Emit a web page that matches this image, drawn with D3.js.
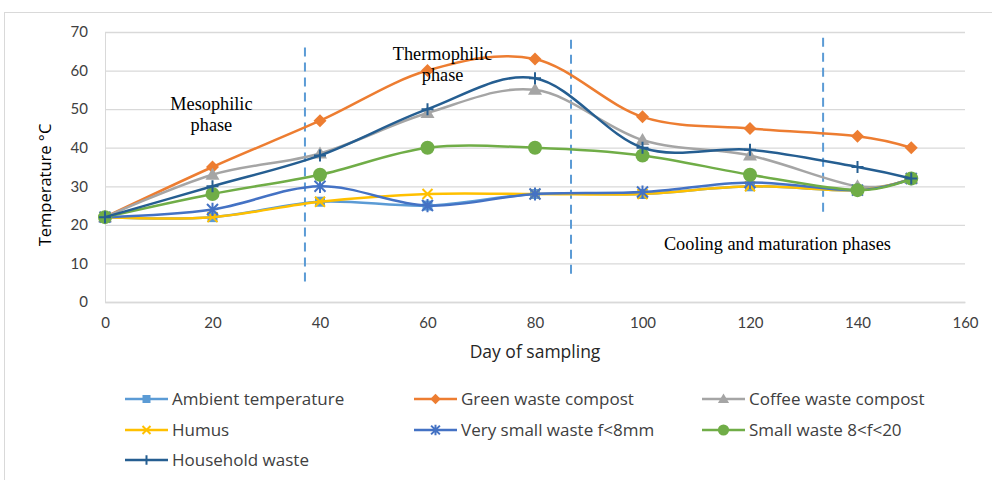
<!DOCTYPE html>
<html>
<head>
<meta charset="utf-8">
<script src="https://cdn.jsdelivr.net/npm/d3@7/dist/d3.min.js"></script>
<style>
  body { margin: 0; background: #fff; }
  svg { display: block; }
</style>
</head>
<body>
<svg id="chart" width="992" height="480"></svg>
<script>
// Sampling days and temperature readings (°C) per treatment
const days = [0, 20, 40, 60, 80, 100, 120, 140, 150];
const ambient    = [22, 22, 26, 25, 28, 28, 30, 29, 32];
const greenWaste = [22, 35, 47, 60, 63, 48, 45, 43, 40];
const coffeeWaste= [22, 33, 38.5, 49, 55, 42, 38, 30, 32];
const humus      = [22, 22, 26, 28, 28, 28, 30, 29, 32];
const verySmall  = [22, 24, 30, 25, 28, 28.5, 31, 29, 32];
const smallWaste = [22, 28, 33, 40, 40, 38, 33, 29, 32];
const household  = [22, 30, 38, 50, 58, 40, 39.5, 35, 32];

const seriesNames = ["Ambient temperature", "Green waste compost", "Coffee waste compost",
  "Humus", "Very small waste f<8mm", "Small waste 8<f<20", "Household waste"];
const seriesValues = [ambient, greenWaste, coffeeWaste, humus, verySmall, smallWaste, household];

const xTicks = [0, 20, 40, 60, 80, 100, 120, 140, 160];
const yTicks = [0, 10, 20, 30, 40, 50, 60, 70];

// Phase boundaries (day) with their vertical extent (°C), and phase labels
const phaseBounds = [37.2, 86.7, 133.6];
const phaseBoundTop = [66, 68, 68.5];
const phaseBoundBottom = [4, 6, 22];
const phaseLabels = [
  { lines: ["Mesophilic", "phase"], day: 19.8, temp: 49.8 },
  { lines: ["Thermophilic", "phase"], day: 62.8, temp: 62.7 },
  { lines: ["Cooling and maturation phases"], day: 125.1, temp: 13.5 }
];

const styles = [
  { color: "#5b9bd5", marker: "square" },
  { color: "#ed7d31", marker: "diamond" },
  { color: "#a5a5a5", marker: "triangle" },
  { color: "#ffc000", marker: "x" },
  { color: "#4472c4", marker: "star" },
  { color: "#70ad47", marker: "circle" },
  { color: "#255e91", marker: "plus" }
];

const sans = "'Open Sans', Lato, sans-serif";
const svg = d3.select("#chart");

const x = d3.scaleLinear().domain([0, 160]).range([105, 965]);
const y = d3.scaleLinear().domain([0, 70]).range([302, 32]);

// outer frame
svg.append("rect").attr("x", 4.5).attr("y", 12.5).attr("width", 1000).attr("height", 500)
  .attr("fill", "none").attr("stroke", "#d9d9d9").attr("stroke-width", 1);

// gridlines and value axis
const yAxis = d3.axisLeft(y).tickValues(yTicks).tickSize(-(x(160) - x(0))).tickPadding(10);
const gy = svg.append("g").attr("transform", `translate(${x(0)},0)`).call(yAxis);
gy.select(".domain").attr("stroke", "#d9d9d9");
gy.selectAll(".tick line").attr("stroke", "#d9d9d9").attr("stroke-width", 1.3);
gy.selectAll(".tick text").attr("font-family", "Lato, 'Open Sans', sans-serif")
  .attr("font-size", 15).attr("fill", "#404040").attr("x", -17);

const xAxis = d3.axisBottom(x).tickValues(xTicks).tickSize(0).tickPadding(15);
const gx = svg.append("g").attr("transform", `translate(0,${y(0)})`).call(xAxis);
gx.select(".domain").attr("stroke", "#d9d9d9").attr("stroke-width", 1.3);
gx.selectAll(".tick text").attr("font-family", "Lato, 'Open Sans', sans-serif")
  .attr("font-size", 15).attr("fill", "#404040");

// axis titles
svg.append("text").attr("transform", `translate(51,${(y(0) + y(70)) / 2 + 18}) rotate(-90)`)
  .attr("text-anchor", "middle").attr("font-family", sans)
  .attr("font-size", 16.5).attr("fill", "#000").text("Temperature °C");
svg.append("text").attr("x", 535).attr("y", 358).attr("text-anchor", "middle")
  .attr("font-family", sans).attr("font-size", 17.5)
  .attr("fill", "#262626").text("Day of sampling");

// phase boundaries
phaseBounds.forEach((d, i) => {
  svg.append("line").attr("x1", x(d)).attr("x2", x(d))
    .attr("y1", y(phaseBoundTop[i])).attr("y2", y(phaseBoundBottom[i]))
    .attr("stroke", "#5b9bd5").attr("stroke-width", 2).attr("stroke-dasharray", "9,6");
});

// series lines (smoothed)
const line = d3.line().x((d, i) => x(days[i])).y(d => y(d)).curve(d3.curveCatmullRom.alpha(0));

function drawMarker(g, type, color, cx, cy, s) {
  s = s || 1;
  if (type === "square") {
    g.append("rect").attr("x", cx - 5 * s).attr("y", cy - 5 * s).attr("width", 10 * s).attr("height", 10 * s)
      .attr("fill", color);
  } else if (type === "diamond") {
    g.append("path").attr("d", `M${cx},${cy - 6.5 * s}L${cx + 6.5 * s},${cy}L${cx},${cy + 6.5 * s}L${cx - 6.5 * s},${cy}Z`)
      .attr("fill", color);
  } else if (type === "triangle") {
    g.append("path").attr("d", `M${cx},${cy - 7 * s}L${cx + 7 * s},${cy + 5 * s}L${cx - 7 * s},${cy + 5 * s}Z`)
      .attr("fill", color);
  } else if (type === "circle") {
    g.append("circle").attr("cx", cx).attr("cy", cy).attr("r", 7 * s).attr("fill", color);
  } else if (type === "x") {
    const r = 5 * s;
    g.append("path").attr("d", `M${cx - r},${cy - r}L${cx + r},${cy + r}M${cx - r},${cy + r}L${cx + r},${cy - r}`)
      .attr("stroke", color).attr("stroke-width", 2);
  } else if (type === "star") {
    const r = 5.5 * s;
    g.append("path").attr("d", `M${cx - r},${cy - r}L${cx + r},${cy + r}M${cx - r},${cy + r}L${cx + r},${cy - r}M${cx},${cy - r * 1.2}L${cx},${cy + r * 1.2}`)
      .attr("stroke", color).attr("stroke-width", 2);
  } else if (type === "plus") {
    const r = 6 * s;
    g.append("path").attr("d", `M${cx - r},${cy}L${cx + r},${cy}M${cx},${cy - r}L${cx},${cy + r}`)
      .attr("stroke", color).attr("stroke-width", 2);
  }
}

const plot = svg.append("g");
seriesValues.forEach((vals, si) => {
  const g = plot.append("g");
  g.append("path").attr("d", line(vals)).attr("fill", "none")
    .attr("stroke", styles[si].color).attr("stroke-width", 2.5).attr("stroke-linejoin", "round");
  vals.forEach((v, i) => drawMarker(g, styles[si].marker, styles[si].color, x(days[i]), y(v)));
});

// phase labels
phaseLabels.forEach(p => {
  const t = svg.append("text").attr("text-anchor", "middle")
    .attr("font-family", "'Liberation Serif', 'Times New Roman', serif").attr("font-size", 18.3).attr("fill", "#000");
  p.lines.forEach((ln, k) => {
    t.append("tspan").attr("x", x(p.day)).attr("y", y(p.temp) + k * 21).text(ln);
  });
});

// legend
const legendCols = [125, 414, 702];
const legendRows = [399, 430, 460];
seriesNames.forEach((name, i) => {
  const cx = legendCols[i % 3], cy = legendRows[Math.floor(i / 3)];
  const g = svg.append("g");
  g.append("line").attr("x1", cx).attr("x2", cx + 43).attr("y1", cy).attr("y2", cy)
    .attr("stroke", styles[i].color).attr("stroke-width", 2.5);
  drawMarker(g, styles[i].marker, styles[i].color, cx + 21.5, cy, 0.8);
  g.append("text").attr("x", cx + 47).attr("y", cy + 5.5)
    .attr("font-family", sans).attr("font-size", 17)
    .attr("fill", "#404040").text(name);
});
</script>
</body>
</html>
